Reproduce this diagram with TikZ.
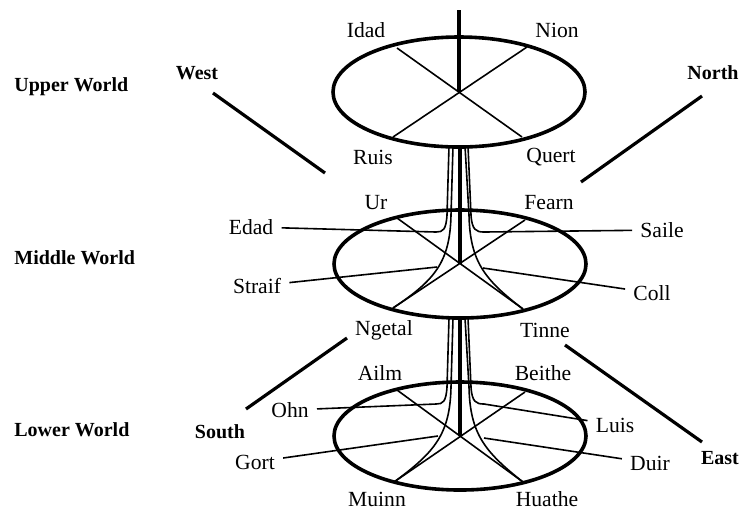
\documentclass[tikz,border=0pt]{standalone}
\usepackage{fontspec}
\setmainfont{Liberation Serif}

\begin{document}
\begin{tikzpicture}[
  x=0.5pt, y=-0.5pt,
  every node/.style={font=\fontsize{10.8}{13}\selectfont, inner sep=1pt},
  realm/.style={font=\fontsize{10}{12}\selectfont\bfseries, anchor=west},
  compass/.style={font=\fontsize{10}{12}\selectfont\bfseries},
  rim/.style={line width=1.8pt},
  stem/.style={line width=1.8pt},
  spoke/.style={line width=0.8pt},
  root/.style={line width=0.8pt},
  tie/.style={line width=0.8pt, shorten <=3pt},
  bearing/.style={line width=1.6pt}
]
  \useasboundingbox (0,0) rectangle (743,511);

  % worlds and directions
  \node[realm] (upperw) at (12,87) {Upper World};
  \node[realm] (middlew) at (12,258) {Middle World};
  \node[realm] (lowerw) at (12,430) {Lower World};
  \node[compass] (west) at (197,73) {West};
  \node[compass] (north) at (713,73) {North};
  \node[compass] (south) at (220,432) {South};
  \node[compass] (east) at (720,458) {East};

  % upper world
  \node (idad) at (366,30) {Idad};
  \node (nion) at (557,30) {Nion};
  \node (ruis) at (373,157) {Ruis};
  \node (quert) at (551,157) {Quert};

  % middle world
  \node (ur) at (376,203) {Ur};
  \node (fearn) at (549,203) {Fearn};
  \node (edad) at (251,227) {Edad};
  \node (saile) at (662,230) {Saile};
  \node (straif) at (257,286) {Straif};
  \node (coll) at (652,293) {Coll};
  \node (ngetal) at (384,330) {Ngetal};
  \node (tinne) at (545,330) {Tinne};

  % lower world
  \node (ailm) at (380,373) {Ailm};
  \node (beithe) at (543,373) {Beithe};
  \node (ohn) at (290,410) {Ohn};
  \node (luis) at (615,425) {Luis};
  \node (gort) at (255,462) {Gort};
  \node (duir) at (650,463) {Duir};
  \node (muinn) at (377,499) {Muinn};
  \node (huathe) at (547,499) {Huathe};

  \coordinate (edad-end) at (436,232);
  \coordinate (saile-end) at (484,232);
  \coordinate (straif-end) at (437,267);
  \coordinate (coll-end) at (483,268);
  \coordinate (ohn-end) at (436,404);
  \coordinate (luis-end) at (484,404);
  \coordinate (gort-end) at (438,436);
  \coordinate (duir-end) at (484,438);

  \coordinate (west-a) at (213,93);
  \coordinate (west-b) at (325,173);
  \coordinate (north-a) at (702,96);
  \coordinate (north-b) at (581,182);
  \coordinate (south-a) at (246,409);
  \coordinate (south-b) at (347,338);
  \coordinate (east-a) at (565,345);
  \coordinate (east-b) at (702,442);

  \draw[rim] (459,92) ellipse (126 and 55);
  \draw[rim] (460,264) ellipse (126 and 54);
  \draw[rim] (460,436) ellipse (126 and 54);

  \draw[stem] (459,10) -- (459,92);
  \draw[stem] (460,146) -- (460,264);
  \draw[stem] (460,318) -- (460,436);

  \draw[spoke] (397,48) -- (522,137);
  \draw[spoke] (527,47) -- (393,137);
  \draw[spoke] (397,218) -- (523,309);
  \draw[spoke] (525,220) -- (393,308);
  \draw[spoke] (397,390) -- (523,482);
  \draw[spoke] (525,392) -- (394,482);

  % roots between the worlds
  \draw[root] (449,146) -- (447,215) .. controls (446,230) and (443,232) .. (edad-end);
  \draw[root] (453,146) -- (451,215) .. controls (450,262) and (435,280) .. (393,308);
  \draw[root] (468,146) -- (471,215) .. controls (472,230) and (476,232) .. (saile-end);
  \draw[root] (465,146) -- (469,215) .. controls (470,262) and (485,280) .. (523,309);
  \draw[root] (449,318) -- (447,387) .. controls (446,402) and (443,404) .. (ohn-end);
  \draw[root] (453,318) -- (451,387) .. controls (450,434) and (435,452) .. (394,482);
  \draw[root] (468,318) -- (471,387) .. controls (472,402) and (476,404) .. (luis-end);
  \draw[root] (465,318) -- (469,387) .. controls (470,434) and (485,452) .. (523,482);

  \draw[tie] (edad) -- (edad-end);
  \draw[tie] (saile) -- (saile-end);
  \draw[tie] (straif) -- (straif-end);
  \draw[tie] (coll) -- (coll-end);
  \draw[tie] (ohn) -- (ohn-end);
  \draw[tie] (luis) -- (luis-end);
  \draw[tie] (gort) -- (gort-end);
  \draw[tie] (duir) -- (duir-end);

  \draw[bearing] (west-a) -- (west-b);
  \draw[bearing] (north-a) -- (north-b);
  \draw[bearing] (south-a) -- (south-b);
  \draw[bearing] (east-a) -- (east-b);
\end{tikzpicture}
\end{document}
